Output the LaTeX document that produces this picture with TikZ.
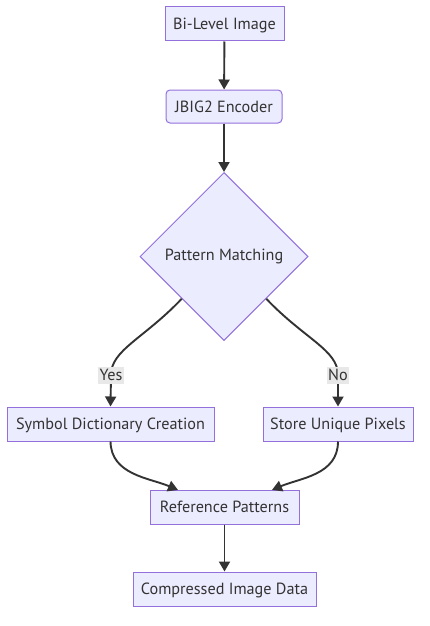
\documentclass[tikz,border=0pt]{standalone}
\usepackage{fontspec}
\setmainfont{PT Sans}
\usetikzlibrary{shapes.geometric,arrows.meta,calc}
\definecolor{nodefill}{HTML}{ECECFF}
\definecolor{nodeborder}{HTML}{9370DB}
\definecolor{edgecol}{HTML}{333333}
\definecolor{lblbg}{HTML}{E8E8E8}
\tikzset{
  txt/.style={font=\fontsize{16.2}{18}\selectfont},
  box/.style={draw=nodeborder, fill=nodefill, line width=1pt, minimum height=34pt, inner sep=0pt, text=edgecol, txt, text height=12.5pt, text depth=1.5pt},
  rbox/.style={box, rounded corners=4pt},
  decision/.style={diamond, draw=nodeborder, fill=nodefill, line width=1pt, minimum width=168pt, minimum height=168pt, inner sep=0pt, text=edgecol, txt},
  edge/.style={draw=edgecol, line width=1.9pt, -{Triangle[length=10pt,width=11pt]}},
  lbl/.style={fill=lblbg, text=edgecol, inner sep=1.5pt, txt},
}
\begin{document}
\begin{tikzpicture}[x=1pt,y=-1pt]
\useasboundingbox (0,0) rectangle (429,626);
\node[box, minimum width=119pt] (bi) at (224.5,24) {Bi-Level Image};
\node[rbox, minimum width=116pt, minimum height=33pt] (enc) at (224,106.5) {JBIG2 Encoder};
\node[decision] (dia) at (224,256.5) {Pattern Matching};
\node[box, minimum width=207pt] (sym) at (110.5,424) {Symbol Dictionary Creation};
\node[box, minimum width=150pt] (uni) at (338,424) {Store Unique Pixels};
\node[box, minimum width=149pt] (ref) at (224.5,507) {Reference Patterns};
\node[box, minimum width=183pt] (cmp) at (224.5,589) {Compressed Image Data};
\coordinate (yesc) at (111,375);
\coordinate (noc) at (338,375);
\coordinate (rin1) at (178,490);
\coordinate (rin2) at (272,490);
\draw[edge] (bi) -- (enc);
\draw[edge] (enc) -- (dia);
\draw[edge] (dia.south west) .. controls ($(dia.south west)+(-38,40)$) and (111,350) .. (yesc) -- (sym.north);
\draw[edge] (dia.south east) .. controls ($(dia.south east)+(38,40)$) and (338,350) .. (noc) -- (uni.north);
\draw[edge] (sym.south) .. controls (111,475) and (150,478) .. (rin1);
\draw[edge] (uni.south) .. controls (338,475) and (300,478) .. (rin2);
\draw[edge] (ref) -- (cmp);
\node[lbl, text height=12pt, text depth=2pt] (yes) at (yesc) {Yes};
\node[lbl, text height=12pt, text depth=2pt] (no) at (noc) {No};
\end{tikzpicture}
\end{document}
